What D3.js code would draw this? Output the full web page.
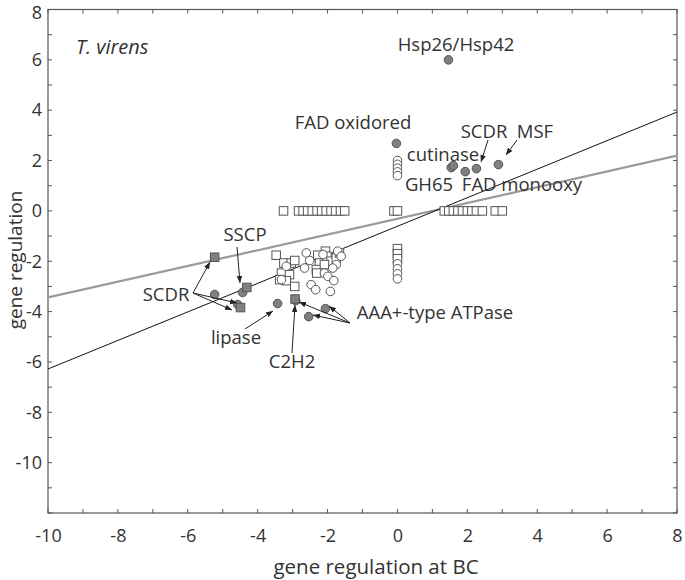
<!DOCTYPE html>
<html><head><meta charset="utf-8">
<script src="https://cdn.jsdelivr.net/npm/d3@7"></script>
<style>body{margin:0;background:#fff;} text{font-family:"Open Sans",sans-serif;fill:#333;}</style>
</head><body>
<svg id="chart" width="685" height="580"></svg>
<script>
// ---- data ----
const xTicks = [-10,-8,-6,-4,-2,0,2,4,6,8];
const yTicks = [-10,-8,-6,-4,-2,0,2,4,6,8];
const openSquaresX = [-3.26,-2.83,-2.7,-2.57,-2.44,-2.3,-2.17,-2.04,-1.9,-1.77,-1.63,-1.51,-0.1,0.0,1.34,1.47,1.6,1.73,1.86,2.0,2.13,2.26,2.43,2.8,3.0,
  0,0,0,
  -3.47,-3.25,-3.04,-2.94,-3.32,-3.37,-3.09,-3.18,-2.94,-2.28,-2.23,-2.32,-2.06,-2.02,-1.9,-1.75,-1.66,-2.09,-2.31];
const openSquaresY = [0,0,0,0,0,0,0,0,0,0,0,0,0,0,0,0,0,0,0,0,0,0,0,0,0,
  -1.5,-1.7,-1.9,
  -1.76,-2.07,-2.07,-1.97,-2.47,-2.73,-2.53,-2.77,-3.0,-1.76,-2.07,-2.33,-1.6,-1.8,-2.0,-1.87,-1.67,-2.13,-2.47];
const openCirclesX = [0,0,0,0,0, 0,0,0,0,
  -2.61,-2.51,-2.66,-2.13,-2.09,-2.47,-2.34,-1.99,-1.82,-1.92,-1.71,-1.61,-1.75,-1.85,-3.32,-3.18];
const openCirclesY = [2.0,1.85,1.7,1.55,1.4, -2.1,-2.3,-2.5,-2.7,
  -1.67,-1.97,-2.27,-1.73,-2.47,-2.93,-3.13,-2.6,-2.77,-3.2,-1.6,-1.8,-2.13,-2.27,-2.73,-2.2];
const filledCirclesX = [1.46,-0.03,1.54,1.6,1.94,2.26,2.89,-4.43,-5.23,-4.57,-3.43,-2.91,-2.06,-2.54];
const filledCirclesY = [6.0,2.68,1.72,1.8,1.56,1.68,1.84,-3.24,-3.32,-3.72,-3.68,-3.56,-3.88,-4.2];
const filledSquaresX = [-5.23,-4.31,-4.49,-2.93];
const filledSquaresY = [-1.84,-3.04,-3.84,-3.5];
// regression lines: [slope, intercept]
const lineBlack = [0.567,-0.61];
const lineGray = [0.313,-0.31];
const labels = [
  {t:"Hsp26/Hsp42",x:456,y:51},{t:"FAD oxidored",x:353,y:129},{t:"SCDR",x:484,y:138},
  {t:"MSF",x:535,y:138},{t:"cutinase",x:443,y:161},{t:"GH65",x:429,y:191},
  {t:"FAD monooxy",x:522,y:191},{t:"SSCP",x:245,y:241},{t:"SCDR",x:166,y:301},
  {t:"lipase",x:236,y:344},{t:"C2H2",x:292,y:368},{t:"AAA+-type ATPase",x:435,y:319}
];
const arrows = [
  [488,140,481,162],[517,140,506,155],[237,247,240,283],
  [193,293,210,262],[193,293,237,303],[193,293,232,310],
  [245,329,273,311],[292,353,295,305],
  [350,323,299,302],[350,323,329,306],[350,323,313,315]
];

// ---- chart ----
const svg = d3.select("#chart");
const L=48, R=677, T=9.5, B=513;
const x = d3.scaleLinear().domain([-10,8]).range([L,R]);
const y = d3.scaleLinear().domain([-12,8]).range([B,T]);
const axisColor = "#555";

const defs = svg.append("defs");
defs.append("clipPath").attr("id","clip").append("rect").attr("x",L).attr("y",T).attr("width",R-L).attr("height",B-T);
defs.append("marker").attr("id","arr").attr("viewBox","0 0 10 10").attr("refX",10).attr("refY",5)
  .attr("markerWidth",7).attr("markerHeight",7).attr("orient","auto")
  .append("path").attr("d","M0,1 L10,5 L0,9 z").attr("fill","#222");

// minor ticks inward on all sides
const minorX = d3.range(-10,9,1), minorY = d3.range(-12,9,1);
const tk = svg.append("g").attr("stroke",axisColor).attr("stroke-width",1);
minorX.forEach(v=>{
  tk.append("line").attr("x1",x(v)).attr("x2",x(v)).attr("y1",B).attr("y2",B-4);
  tk.append("line").attr("x1",x(v)).attr("x2",x(v)).attr("y1",T).attr("y2",T+4);
});
minorY.forEach(v=>{
  tk.append("line").attr("y1",y(v)).attr("y2",y(v)).attr("x1",L).attr("x2",L+4);
  tk.append("line").attr("y1",y(v)).attr("y2",y(v)).attr("x1",R).attr("x2",R-4);
});
svg.append("rect").attr("x",L).attr("y",T).attr("width",R-L).attr("height",B-T)
  .attr("fill","none").attr("stroke",axisColor).attr("stroke-width",1.2);

// tick labels (hyphen minus as in the reference)
const xAxis = svg.append("g").attr("transform",`translate(0,${B})`)
  .call(d3.axisBottom(x).tickValues(xTicks).tickSize(0).tickPadding(16).tickFormat(d=>String(d)));
xAxis.select(".domain").remove();
xAxis.selectAll("text").style("font-size","18px").style("font-family","Open Sans").attr("fill","#333");
const yAxis = svg.append("g").attr("transform",`translate(${L},0)`)
  .call(d3.axisLeft(y).tickValues(yTicks).tickSize(0).tickPadding(6).tickFormat(d=>String(d)));
yAxis.select(".domain").remove();
yAxis.selectAll("text").style("font-size","18px").style("font-family","Open Sans").attr("fill","#333");
// keep the top label inside the page
yAxis.selectAll(".tick").filter(d=>d===8).select("text").attr("dy","0.5em");

svg.append("text").attr("x",376).attr("y",574).attr("text-anchor","middle").style("font-size","20.5px").text("gene regulation at BC");
svg.append("text").attr("transform","translate(22,260) rotate(-90)").attr("text-anchor","middle").style("font-size","19px").text("gene regulation");

// lines
const gl = svg.append("g").attr("clip-path","url(#clip)");
gl.append("line").attr("x1",x(-10)).attr("y1",y(lineGray[0]*-10+lineGray[1])).attr("x2",x(8)).attr("y2",y(lineGray[0]*8+lineGray[1]))
  .attr("stroke","#9a9a9a").attr("stroke-width",2.2);
gl.append("line").attr("x1",x(-10)).attr("y1",y(lineBlack[0]*-10+lineBlack[1])).attr("x2",x(8)).attr("y2",y(lineBlack[0]*8+lineBlack[1]))
  .attr("stroke","#111").attr("stroke-width",1);

// points
const pts = svg.append("g").attr("clip-path","url(#clip)");
const sq = 8.5, cr = 4.3;
pts.selectAll(".os").data(openSquaresX.map((v,i)=>[v,openSquaresY[i]])).join("rect")
  .attr("x",d=>x(d[0])-sq/2).attr("y",d=>y(d[1])-sq/2).attr("width",sq).attr("height",sq)
  .attr("fill","#fff").attr("stroke","#555").attr("stroke-width",1);
pts.selectAll(".oc").data(openCirclesX.map((v,i)=>[v,openCirclesY[i]])).join("circle")
  .attr("cx",d=>x(d[0])).attr("cy",d=>y(d[1])).attr("r",cr)
  .attr("fill","#fff").attr("stroke","#555").attr("stroke-width",1);
pts.selectAll(".fc").data(filledCirclesX.map((v,i)=>[v,filledCirclesY[i]])).join("circle")
  .attr("cx",d=>x(d[0])).attr("cy",d=>y(d[1])).attr("r",cr)
  .attr("fill","#808080").attr("stroke","#555").attr("stroke-width",1);
pts.selectAll(".fs").data(filledSquaresX.map((v,i)=>[v,filledSquaresY[i]])).join("rect")
  .attr("x",d=>x(d[0])-sq/2).attr("y",d=>y(d[1])-sq/2).attr("width",sq).attr("height",sq)
  .attr("fill","#808080").attr("stroke","#555").attr("stroke-width",1);

// annotations
svg.append("text").attr("x",76).attr("y",54).style("font-size","20px").style("font-style","italic").text("T. virens");
svg.selectAll(".lab").data(labels).join("text").attr("x",d=>d.x).attr("y",d=>d.y)
  .attr("text-anchor","middle").style("font-size","18.5px").text(d=>d.t);
svg.selectAll(".arw").data(arrows).join("line")
  .attr("x1",d=>d[0]).attr("y1",d=>d[1]).attr("x2",d=>d[2]).attr("y2",d=>d[3])
  .attr("stroke","#222").attr("stroke-width",1).attr("marker-end","url(#arr)");
</script>
</body></html>
